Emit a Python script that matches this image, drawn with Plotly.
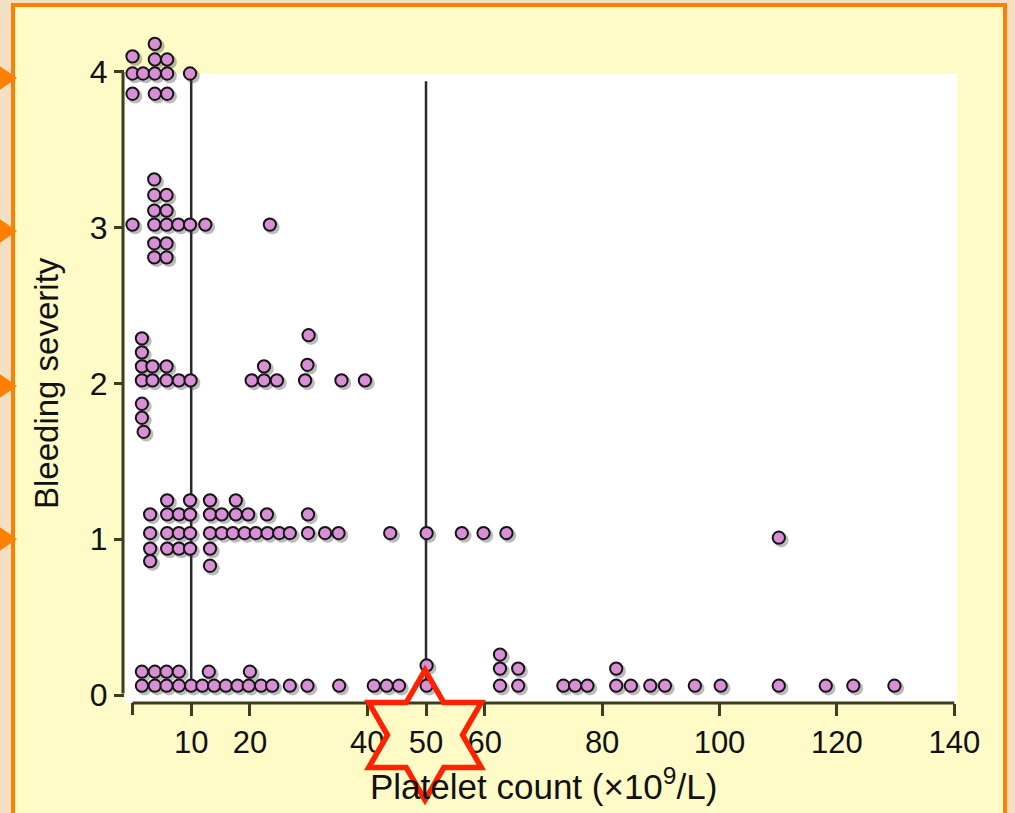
import math
import plotly.graph_objects as go

# ---------------- data ----------------
severity_levels = [0, 1, 2, 3, 4]
x_tick_values = [10, 20, 40, 50, 60, 80, 100, 120, 140]
x_tick_labels = ["10", "20", "40", "50", "60", "80", "100", "120", "140"]
x_axis_start = 0
threshold_counts = [10, 50]
x_title = "Platelet count (\u00d710<sup>9</sup>/L)"
y_title = "Bleeding severity"

# severity 4 (platelet count, plotted severity position incl. stacking)
sev4_count = [0, 3.8, 3.8, 5.9, 0, 1.8, 3.8, 5.9, 9.8, 0, 3.8, 5.9]
sev4_y = [4.10, 4.18, 4.08, 4.08, 3.99, 3.99, 3.99, 3.99, 3.99, 3.86, 3.86, 3.86]

# severity 3
sev3_count = [3.7, 3.7, 5.8, 3.7, 5.8, 0, 3.7, 5.8, 7.8, 9.8, 12.4, 23.4, 3.7, 5.8, 3.7, 5.8]
sev3_y = [3.31, 3.21, 3.21, 3.11, 3.11, 3.02, 3.02, 3.02, 3.02, 3.02, 3.02, 3.02, 2.90, 2.90, 2.81, 2.81]

# severity 2
sev2_count = [1.6, 1.6, 1.6, 3.4, 5.8, 22.4, 29.8, 30.0,
              1.6, 3.4, 5.8, 7.9, 9.9, 20.3, 22.4, 24.6, 29.4, 35.6, 39.6,
              1.6, 1.6, 1.9]
sev2_y = [2.29, 2.20, 2.11, 2.11, 2.11, 2.11, 2.12, 2.31,
          2.02, 2.02, 2.02, 2.02, 2.02, 2.02, 2.02, 2.02, 2.02, 2.02, 2.02,
          1.87, 1.78, 1.69]

# severity 1
sev1_count = [5.9, 9.8, 13.2, 17.6,
              3.0, 5.9, 7.9, 9.8, 13.2, 15.2, 17.6, 19.7, 22.9, 29.9,
              3.0, 5.9, 7.9, 9.8, 13.2, 15.2, 17.1, 19.1, 21.0, 23.0, 25.0, 26.8,
              29.9, 32.8, 35.1, 43.9, 50.1, 56.1, 59.8, 63.7, 110.1,
              3.0, 5.9, 7.9, 9.8, 13.2,
              3.0, 13.2]
sev1_y = [1.25, 1.25, 1.25, 1.25,
          1.16, 1.16, 1.16, 1.16, 1.16, 1.16, 1.16, 1.16, 1.16, 1.16,
          1.04, 1.04, 1.04, 1.04, 1.04, 1.04, 1.04, 1.04, 1.04, 1.04, 1.04, 1.04,
          1.04, 1.04, 1.04, 1.04, 1.04, 1.04, 1.04, 1.04, 1.01,
          0.94, 0.94, 0.94, 0.94, 0.94,
          0.86, 0.83]

# severity 0
sev0_count = [1.6, 3.8, 5.8, 7.9, 10.0, 11.9, 13.9, 15.9, 17.9, 19.8, 21.9, 23.8,
              26.8, 29.8, 35.2, 41.1, 43.3, 45.4, 50.1, 62.6, 65.7, 73.4, 75.4,
              77.5, 82.4, 84.9, 88.2, 90.7, 95.8, 100.2, 110.1, 118.1, 122.8, 129.8,
              1.6, 3.8, 5.8, 7.9, 13.0, 20.0,
              50.1, 62.6, 65.7, 82.4, 62.6]
sev0_y = [0.06] * 34 + [0.15] * 6 + [0.19, 0.17, 0.17, 0.17, 0.26]

# ---------------- layout geometry ----------------
W, H = 1015, 813
ML, MR, MT, MB = 125, 58, 33, 110
PW = W - ML - MR
PH = H - MT - MB
X_RANGE = [-1.28, 140.46]
Y_RANGE = [-0.051, 4.25]


def pp(px, py):
    """pixel -> paper coordinates (for decorations only)"""
    return (px - ML) / PW, (H - MB - py) / PH


AXIS = "#3d3d22"
DOT_FILL = "#d98fd5"
DOT_LINE = "#151515"
YELLOW = "#fffbc6"
BEIGE = "#f3dfc1"
ORANGE = "#ff7f00"
RED = "#ff2200"
FONT = "Liberation Sans, Arial, sans-serif"

# shadow offsets expressed in data units (2.5 px right / down)
sx = 2.5 * (X_RANGE[1] - X_RANGE[0]) / PW
sy = 2.5 * (Y_RANGE[1] - Y_RANGE[0]) / PH

fig = go.Figure()

groups = [(sev0_count, sev0_y), (sev1_count, sev1_y), (sev2_count, sev2_y),
          (sev3_count, sev3_y), (sev4_count, sev4_y)]

for cnt, ys in groups:
    fig.add_trace(go.Scatter(
        x=[c + sx for c in cnt], y=[v - sy for v in ys], mode="markers",
        cliponaxis=False, hoverinfo="skip",
        marker=dict(size=14.5, color="rgba(60,60,60,0.35)", line=dict(width=0)),
    ))
for cnt, ys in groups:
    fig.add_trace(go.Scatter(
        x=cnt, y=ys, mode="markers", cliponaxis=False, hoverinfo="skip",
        marker=dict(size=12.3, color=DOT_FILL, line=dict(color=DOT_LINE, width=2)),
    ))

shapes = []
# yellow panel with orange frame
x0, y0 = pp(13, 5)
x1, y1 = pp(1005, 840)
shapes.append(dict(type="rect", xref="paper", yref="paper", x0=x0, x1=x1, y0=y1, y1=y0,
                   fillcolor=YELLOW, line=dict(color=ORANGE, width=4), layer="below"))
# white plotting area
wx0, wy0 = pp(125, 74)
wx1, wy1 = pp(957, 703)
shapes.append(dict(type="rect", xref="paper", yref="paper", x0=wx0, x1=wx1, y0=wy1, y1=wy0,
                   fillcolor="white", line=dict(width=0), layer="below"))
# axis lines (offset, Prism style)
ax_x, _ = pp(123, 0)
shapes.append(dict(type="line", xref="paper", yref="y", x0=ax_x, x1=ax_x, y0=0.01, y1=4,
                   line=dict(color=AXIS, width=3), layer="below"))
shapes.append(dict(type="line", xref="x", yref="paper", x0=x_axis_start, x1=x_tick_values[-1],
                   y0=0, y1=0, line=dict(color=AXIS, width=3), layer="below"))
# unlabeled tick at the start of the x axis
shapes.append(dict(type="line", xref="x", yref="paper", x0=x_axis_start, x1=x_axis_start,
                   y0=0, y1=-12 / PH, line=dict(color=AXIS, width=3), layer="below"))
# threshold lines
shapes.append(dict(type="line", xref="x", yref="y", x0=threshold_counts[0], x1=threshold_counts[0],
                   y0=0.05, y1=4.0, line=dict(color="#2a2a2a", width=2.5), layer="below"))
shapes.append(dict(type="line", xref="x", yref="y", x0=threshold_counts[1], x1=threshold_counts[1],
                   y0=0.05, y1=3.94, line=dict(color="#2a2a2a", width=2.5), layer="below"))

# orange arrows on the left
for yc in [78, 231, 386, 539]:
    a = pp(-2, yc - 13)
    b = pp(17, yc)
    c = pp(-2, yc + 13)
    path = f"M{a[0]},{a[1]} L{b[0]},{b[1]} L{c[0]},{c[1]} Z"
    shapes.append(dict(type="path", xref="paper", yref="paper", path=path,
                       fillcolor=ORANGE, line=dict(width=0), layer="above"))

# red six-pointed star
cx, cy, Ro = 425, 735, 65
Ri = Ro / math.sqrt(3)
pts = []
for k in range(12):
    ang = math.radians(90 + 30 * k)
    r = Ro if k % 2 == 0 else Ri
    pts.append(pp(cx + r * math.cos(ang), cy - r * math.sin(ang)))
path = "M" + " L".join(f"{p[0]},{p[1]}" for p in pts) + " Z"
shapes.append(dict(type="path", xref="paper", yref="paper", path=path,
                   fillcolor="rgba(0,0,0,0)", line=dict(color=RED, width=5.5), layer="above"))

annotations = []
tx, ty = pp(543, 784)
annotations.append(dict(xref="paper", yref="paper", x=tx, y=ty, xanchor="center", yanchor="middle",
                        text=x_title, showarrow=False,
                        font=dict(family=FONT, size=35, color="#111")))
yx, yy = pp(47, 383)
annotations.append(dict(xref="paper", yref="paper", x=yx, y=yy, xanchor="center", yanchor="middle",
                        text=y_title, textangle=-90, showarrow=False,
                        font=dict(family=FONT, size=33, color="#111")))

fig.update_layout(
    width=W, height=H,
    margin=dict(l=ML, r=MR, t=MT, b=MB, pad=0),
    paper_bgcolor=BEIGE, plot_bgcolor="rgba(0,0,0,0)",
    showlegend=False,
    shapes=shapes, annotations=annotations,
    xaxis=dict(range=X_RANGE, tickmode="array", tickvals=x_tick_values,
               ticktext=x_tick_labels, ticks="outside", ticklen=12, tickwidth=3,
               tickcolor=AXIS, showgrid=False, zeroline=False, showline=False,
               tickfont=dict(family=FONT, size=31, color="#111"), ticklabelstandoff=0),
    yaxis=dict(range=Y_RANGE, tickmode="array", tickvals=severity_levels,
               ticks="outside", ticklen=10, tickwidth=3, tickcolor=AXIS,
               showgrid=False, zeroline=False, showline=False,
               tickfont=dict(family=FONT, size=32, color="#111"), ticklabelstandoff=0),
)

fig.write_html("out.html", config={"displayModeBar": False},
               post_script="document.body.style.margin='0px';document.body.style.overflow='hidden';")
